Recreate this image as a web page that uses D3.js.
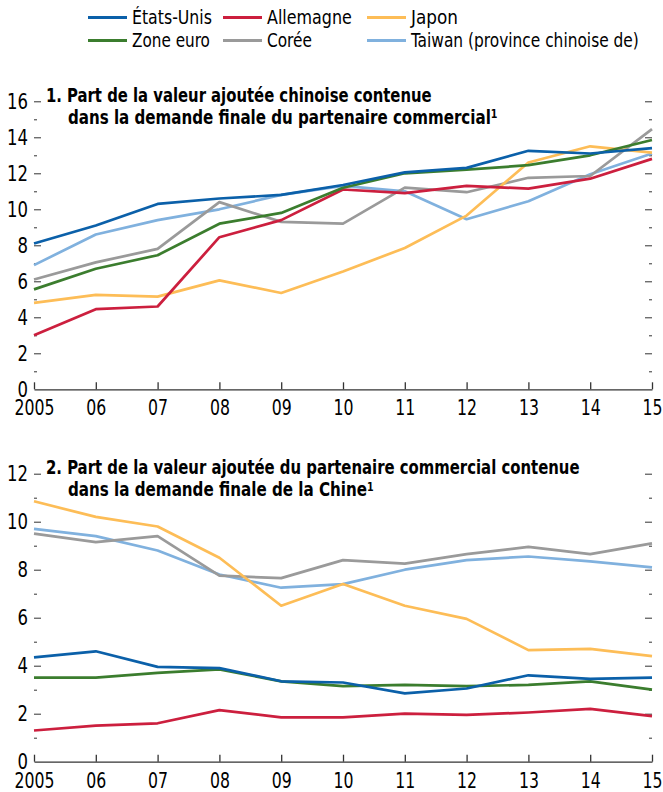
<!DOCTYPE html>
<html>
<head>
<meta charset="utf-8">
<script src="https://cdn.jsdelivr.net/npm/d3@7"></script>
<style>
  body { margin: 0; background: #fff; }
  svg text { font-family: "DejaVu Sans Condensed", "DejaVu Sans", sans-serif; font-stretch: condensed; fill: #000; }
</style>
</head>
<body>
<div id="chart"></div>
<script>
// données
const years = ["2005", "06", "07", "08", "09", "10", "11", "12", "13", "14", "15"];
const names = ["États-Unis", "Allemagne", "Japon", "Zone euro", "Corée", "Taiwan (province chinoise de)"];
const colors = ["#0b60a9", "#cc1f3e", "#fdbd57", "#3b7d2e", "#9a9a9a", "#80b1de"];

// panneau 1 : valeur ajoutée chinoise dans la demande finale du partenaire
const p1_us = [8.1, 9.1, 10.3, 10.6, 10.8, 11.35, 12.05, 12.3, 13.25, 13.1, 13.4];
const p1_de = [3.0, 4.45, 4.6, 8.45, 9.4, 11.1, 10.9, 11.3, 11.15, 11.7, 12.8];
const p1_jp = [4.8, 5.25, 5.15, 6.05, 5.35, 6.55, 7.85, 9.65, 12.6, 13.5, 13.15];
const p1_ez = [5.55, 6.7, 7.45, 9.2, 9.8, 11.2, 12.0, 12.2, 12.45, 13.0, 13.85];
const p1_kr = [6.1, 7.05, 7.8, 10.4, 9.3, 9.2, 11.2, 10.95, 11.75, 11.85, 14.45];
const p1_tw = [6.9, 8.6, 9.4, 10.0, 10.8, 11.3, 11.0, 9.45, 10.45, 11.95, 13.1];

// panneau 2 : valeur ajoutée du partenaire dans la demande finale de la Chine
const p2_us = [4.35, 4.6, 3.95, 3.9, 3.35, 3.3, 2.85, 3.05, 3.6, 3.45, 3.5];
const p2_de = [1.3, 1.5, 1.6, 2.15, 1.85, 1.85, 2.0, 1.95, 2.05, 2.2, 1.9];
const p2_jp = [10.85, 10.2, 9.8, 8.5, 6.5, 7.4, 6.5, 5.95, 4.65, 4.7, 4.4];
const p2_ez = [3.5, 3.5, 3.7, 3.85, 3.35, 3.15, 3.2, 3.15, 3.2, 3.35, 3.0];
const p2_kr = [9.5, 9.15, 9.4, 7.75, 7.65, 8.4, 8.25, 8.65, 8.95, 8.65, 9.1];
const p2_tw = [9.7, 9.4, 8.8, 7.8, 7.25, 7.4, 8.0, 8.4, 8.55, 8.35, 8.1];

const width = 663, height = 792;
const left = 34, right = 652;

const svg = d3.select("#chart").append("svg")
  .attr("width", width)
  .attr("height", height);

const x = d3.scalePoint().domain(years).range([left, right]);

// resserre horizontalement un texte si la police rendue est trop large
function fitWidth(sel, target, anchorX) {
  sel.each(function() {
    const w = this.getComputedTextLength();
    if (w > target) {
      const k = target / w;
      d3.select(this).attr("transform", `translate(${anchorX * (1 - k)},0) scale(${k},1)`);
    }
  });
}

// légende (3 colonnes, ordre colonne par colonne)
const legendCols = [88, 223, 367];
const legendRows = [17.5, 40.5];
const legendOrder = [0, 3, 1, 4, 2, 5];
const legendWidths = [80, 85, 47, 78, 45, 228];   // largeur visée par série
legendOrder.forEach((s, i) => {
  const cx = legendCols[Math.floor(i / 2)], cy = legendRows[i % 2];
  svg.append("line")
    .attr("x1", cx).attr("x2", cx + 39)
    .attr("y1", cy).attr("y2", cy)
    .attr("stroke", colors[s])
    .attr("stroke-width", 3);
  svg.append("text")
    .attr("x", cx + 44).attr("y", cy)
    .attr("dy", "0.35em")
    .style("font-size", "19px")
    .text(names[s])
    .call(fitWidth, legendWidths[s], cx + 44);
});

function drawPanel(opt) {
  const y = d3.scaleLinear().domain([0, opt.max]).range([opt.bottom, opt.top]);
  const g = svg.append("g");

  // ticks mineurs (chaque unité), gauche et droite
  const minor = d3.range(1, opt.max, 2);
  g.append("g")
    .attr("transform", `translate(${left},0)`)
    .call(d3.axisLeft(y).tickValues(minor).tickSize(-3).tickFormat(""))
    .call(a => a.select(".domain").remove());
  g.append("g")
    .attr("transform", `translate(${right},0)`)
    .call(d3.axisRight(y).tickValues(minor).tickSize(-3).tickFormat(""))
    .call(a => a.select(".domain").remove());

  // ticks majeurs avec étiquettes
  const major = d3.range(0, opt.max + 1, 2);
  g.append("g")
    .attr("transform", `translate(${left},0)`)
    .call(d3.axisLeft(y).tickValues(major).tickSize(-7).tickPadding(6).tickFormat(d3.format("d")))
    .call(a => a.select(".domain").remove())
    .call(a => a.selectAll(".tick line").filter(d => d === 0).remove())
    .call(a => a.selectAll("text").style("font-size", "21px").attr("fill", "#000"))
    .call(a => a.selectAll("text").each(function(d) {
      fitWidth(d3.select(this), String(d).length * 10.5, -6);
    }));
  g.append("g")
    .attr("transform", `translate(${right},0)`)
    .call(d3.axisRight(y).tickValues(major.filter(d => d > 0)).tickSize(-7).tickFormat(""))
    .call(a => a.select(".domain").remove());

  // axe horizontal
  g.append("g")
    .attr("transform", `translate(0,${opt.bottom})`)
    .call(d3.axisBottom(x).tickSizeInner(-7).tickSizeOuter(0).tickPadding(11))
    .call(a => a.select(".domain").attr("stroke", "#333").attr("stroke-width", 1.3))
    .call(a => a.selectAll(".tick line").attr("stroke", "#333").attr("stroke-width", 1.3))
    .call(a => a.selectAll("text").style("font-size", "21px").attr("fill", "#000"))
    .call(a => a.selectAll("text").each(function(d) {
      fitWidth(d3.select(this), d.length * 10, 0);
    }));

  g.selectAll(".tick line").attr("stroke", "#333");

  // courbes
  const line = d3.line()
    .x((d, i) => x(years[i]))
    .y(d => y(d));
  const order = [5, 4, 2, 1, 3, 0];
  for (const s of order) {
    g.append("path")
      .datum(opt.series[s])
      .attr("fill", "none")
      .attr("stroke", colors[s])
      .attr("stroke-width", 2.7)
      .attr("stroke-linejoin", "round")
      .attr("d", line);
  }

  // titre
  g.append("text")
    .attr("x", 46).attr("y", opt.top + 0.5)
    .style("font-size", "19px")
    .style("font-weight", "bold")
    .text(opt.title[0])
    .call(fitWidth, opt.titleWidth[0], 46);
  const t2 = g.append("text")
    .attr("x", 68).attr("y", opt.top + 22.5)
    .style("font-size", "19px")
    .style("font-weight", "bold")
    .text(opt.title[1]);
  t2.append("tspan")
    .attr("dy", "-0.45em")
    .style("font-size", "12px")
    .text("1");
  fitWidth(t2, opt.titleWidth[1], 68);
}

drawPanel({
  top: 101.3, bottom: 389.3, max: 16,
  series: [p1_us, p1_de, p1_jp, p1_ez, p1_kr, p1_tw],
  title: ["1. Part de la valeur ajoutée chinoise contenue",
          "dans la demande finale du partenaire commercial"],
  titleWidth: [386, 430]
});

drawPanel({
  top: 473.7, bottom: 761.7, max: 12,
  series: [p2_us, p2_de, p2_jp, p2_ez, p2_kr, p2_tw],
  title: ["2. Part de la valeur ajoutée du partenaire commercial contenue",
          "dans la demande finale de la Chine"],
  titleWidth: [534, 306]
});
</script>
</body>
</html>
